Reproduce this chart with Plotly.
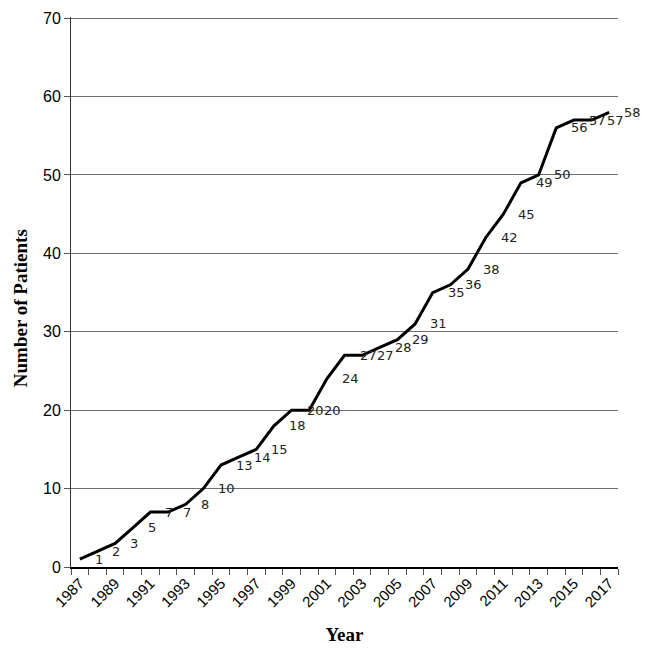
import plotly.graph_objects as go

years = list(range(1987, 2018))
patients = [1, 2, 3, 5, 7, 7, 8, 10, 13, 14, 15, 18, 20, 20, 24, 27, 27, 28, 29, 31,
            35, 36, 38, 42, 45, 49, 50, 56, 57, 57, 58]
tick_years = years[::2]
y_ticks = list(range(0, 71, 10))

fig = go.Figure()
fig.add_trace(go.Scatter(
    x=years, y=patients, mode="lines",
    line=dict(color="black", width=3),
    hoverinfo="x+y", showlegend=False,
))

# value labels just right of each point
for yr, n in zip(years, patients):
    fig.add_annotation(
        x=yr, y=n, text=str(n), showarrow=False,
        xanchor="left", yanchor="middle", xshift=13,
        font=dict(family="DejaVu Sans", size=13, color="#222"),
    )

fig.add_annotation(
    text="<b>Number of Patients</b>", textangle=-90,
    xref="paper", yref="paper", x=-0.092, y=0.47,
    xanchor="center", yanchor="middle", showarrow=False,
    font=dict(family="Liberation Serif", size=19, color="black"),
)

fig.update_xaxes(
    range=[1986.5, 2017.5], automargin=False,
    tickmode="array", tickvals=tick_years, ticktext=[str(y) for y in tick_years],
    tickangle=-45, ticks="", showgrid=False,
    showline=True, linecolor="black", linewidth=1.5,
    tickfont=dict(family="Liberation Sans", size=15, color="black"),
    minor=dict(tick0=1986.5, dtick=1, ticks="outside", ticklen=6,
               tickcolor="#555", tickwidth=1, showgrid=False),
    title=dict(text="<b>Year</b>", standoff=18,
               font=dict(family="Liberation Serif", size=19, color="black")),
    zeroline=False,
)
fig.update_yaxes(
    range=[0, 70.15], automargin=False, tickmode="array", tickvals=y_ticks,
    ticks="outside", ticklen=6, tickcolor="#555",
    showgrid=True, gridcolor="#6e6e6e", gridwidth=1,
    showline=True, linecolor="#333", linewidth=1,
    zeroline=False,
    tickfont=dict(family="Liberation Sans", size=16, color="black"),
)

# page body adds an 8px offset, so margins are shifted to compensate
fig.update_layout(
    width=650, height=652,
    margin=dict(l=63, r=40, t=9, b=93),
    plot_bgcolor="white", paper_bgcolor="white",
)

fig.write_html("out.html")
